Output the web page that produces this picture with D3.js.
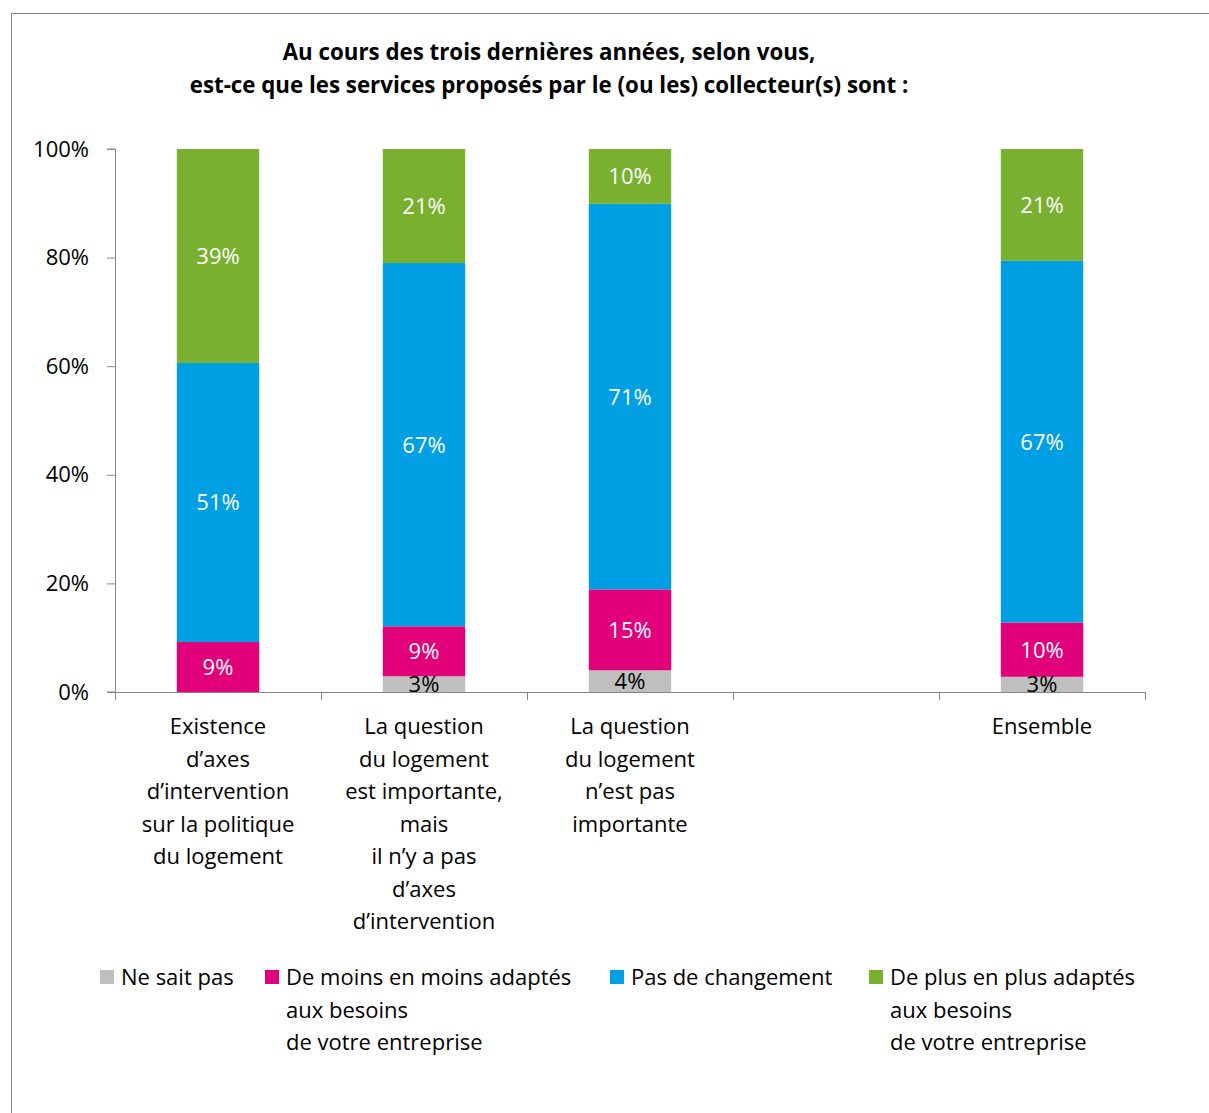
<!DOCTYPE html>
<html lang="fr">
  <head>
    <meta charset="UTF-8" />
    <title>Services proposés par les collecteurs</title>
    <script src="https://cdn.jsdelivr.net/npm/d3@7"></script>
    <style>
      body { margin: 0; background: #fff; }
      text { font-family: "Open Sans", "Noto Sans", sans-serif; fill: #000; }
      .title { font-size: 22.3px; font-weight: bold; }
      .tick text { font-size: 22px; }
      .lbl { font-size: 22px; }
      .leg { font-size: 22px; }
    </style>
  </head>
  <body>
    <script>
      // categories (the 4th one is an empty slot)
      var categories = [
        "Existence\nd’axes\nd’intervention\nsur la politique\ndu logement",
        "La question\ndu logement\nest importante,\nmais\nil n’y a pas\nd’axes\nd’intervention",
        "La question\ndu logement\nn’est pas\nimportante",
        "",
        "Ensemble"
      ];

      var seriesNames = [
        "Ne sait pas",
        "De moins en moins adaptés\naux besoins\nde votre entreprise",
        "Pas de changement",
        "De plus en plus adaptés\naux besoins\nde votre entreprise"
      ];

      // values in % per category (estimated, labels shown rounded)
      var nsp   = [0,    2.9,  4.0,  null, 2.8];
      var moins = [9.2,  9.2,  14.9, null, 10.0];
      var pasCh = [51.4, 66.9, 71.0, null, 66.6];
      var plus  = [39.4, 21.0, 10.1, null, 20.6];

      var labels = [
        ["",   "3%",  "4%",  "", "3%"],
        ["9%", "9%",  "15%", "", "10%"],
        ["51%","67%", "71%", "", "67%"],
        ["39%","21%", "10%", "", "21%"]
      ];

      var yTicks = [0, 20, 40, 60, 80, 100];

      var colors = ["#BFBFBF", "#E2007A", "#009FE3", "#7AB030"];
      var labelColors = ["#000", "#fff", "#fff", "#fff"];

      var w = 1209, h = 1113;
      var plotLeft = 115, plotRight = 1145, plotTop = 149, plotBottom = 692;

      var svg = d3.select("body").append("svg")
        .attr("width", w)
        .attr("height", h);

      // outer frame
      svg.append("rect")
        .attr("x", 11.5).attr("y", 13.5)
        .attr("width", 1300).attr("height", 1200)
        .attr("fill", "none")
        .attr("stroke", "#868686");

      // title
      svg.append("text").attr("class", "title")
        .attr("x", 549).attr("y", 60)
        .attr("text-anchor", "middle")
        .text("Au cours des trois dernières années, selon vous,");
      svg.append("text").attr("class", "title")
        .attr("x", 549).attr("y", 93)
        .attr("text-anchor", "middle")
        .text("est-ce que les services proposés par le (ou les) collecteur(s) sont :");

      var xScale = d3.scaleBand()
        .domain(d3.range(categories.length))
        .range([plotLeft, plotRight])
        .paddingInner(0.6)
        .paddingOuter(0.3);

      var yScale = d3.scaleLinear()
        .domain([0, 100])
        .range([plotBottom, plotTop]);

      var series = [nsp, moins, pasCh, plus];

      // stacked bars
      categories.forEach(function(c, i) {
        if (nsp[i] === null) return;
        var acc = 0;
        series.forEach(function(s, k) {
          var v = s[i];
          var y0 = acc, y1 = acc + v;
          acc = y1;
          if (v <= 0) return;
          svg.append("rect")
            .attr("x", xScale(i))
            .attr("y", yScale(y1))
            .attr("width", xScale.bandwidth())
            .attr("height", yScale(y0) - yScale(y1))
            .attr("fill", colors[k]);
        });
      });

      // bar labels (drawn after the bars so none get covered)
      categories.forEach(function(c, i) {
        if (nsp[i] === null) return;
        var acc = 0;
        series.forEach(function(s, k) {
          var y0 = acc, y1 = acc + s[i];
          acc = y1;
          if (!labels[k][i]) return;
          svg.append("text").attr("class", "lbl")
            .attr("x", xScale(i) + xScale.bandwidth() / 2)
            .attr("y", (yScale(y0) + yScale(y1)) / 2)
            .attr("dy", "0.36em")
            .attr("text-anchor", "middle")
            .style("fill", labelColors[k])
            .text(labels[k][i]);
        });
      });

      // y axis
      var yAxis = d3.axisLeft(yScale)
        .tickValues(yTicks)
        .tickSize(8)
        .tickPadding(18)
        .tickFormat(function(d) { return d + "%"; });

      var gy = svg.append("g")
        .attr("transform", "translate(" + plotLeft + ",0)")
        .call(yAxis);
      gy.selectAll("path, line").attr("stroke", "#868686");
      gy.select(".domain").attr("d", "M-8," + plotTop + "H0.5V" + plotBottom + "H-8");

      // x axis: ticks at category boundaries
      var bounds = d3.range(categories.length + 1).map(function(i) {
        return plotLeft + i * xScale.step();
      });
      svg.append("line")
        .attr("x1", plotLeft).attr("x2", plotRight)
        .attr("y1", plotBottom + 0.5).attr("y2", plotBottom + 0.5)
        .attr("stroke", "#868686");
      svg.selectAll(".xt")
        .data(bounds)
        .enter().append("line")
        .attr("x1", function(d) { return d + 0.5; })
        .attr("x2", function(d) { return d + 0.5; })
        .attr("y1", plotBottom).attr("y2", plotBottom + 8)
        .attr("stroke", "#868686");

      // category labels
      categories.forEach(function(c, i) {
        var t = svg.append("text").attr("class", "lbl")
          .attr("text-anchor", "middle");
        c.split("\n").forEach(function(line, j) {
          t.append("tspan")
            .attr("x", xScale(i) + xScale.bandwidth() / 2)
            .attr("y", 734 + j * 32.5)
            .text(line);
        });
      });

      // legend
      var legX = [100, 265, 610, 869];
      seriesNames.forEach(function(name, k) {
        svg.append("rect")
          .attr("x", legX[k]).attr("y", 970)
          .attr("width", 14).attr("height", 14)
          .attr("fill", colors[k]);
        var t = svg.append("text").attr("class", "leg");
        name.split("\n").forEach(function(line, j) {
          t.append("tspan")
            .attr("x", legX[k] + 21)
            .attr("y", 985 + j * 32.5)
            .text(line);
        });
      });
    </script>
  </body>
</html>
